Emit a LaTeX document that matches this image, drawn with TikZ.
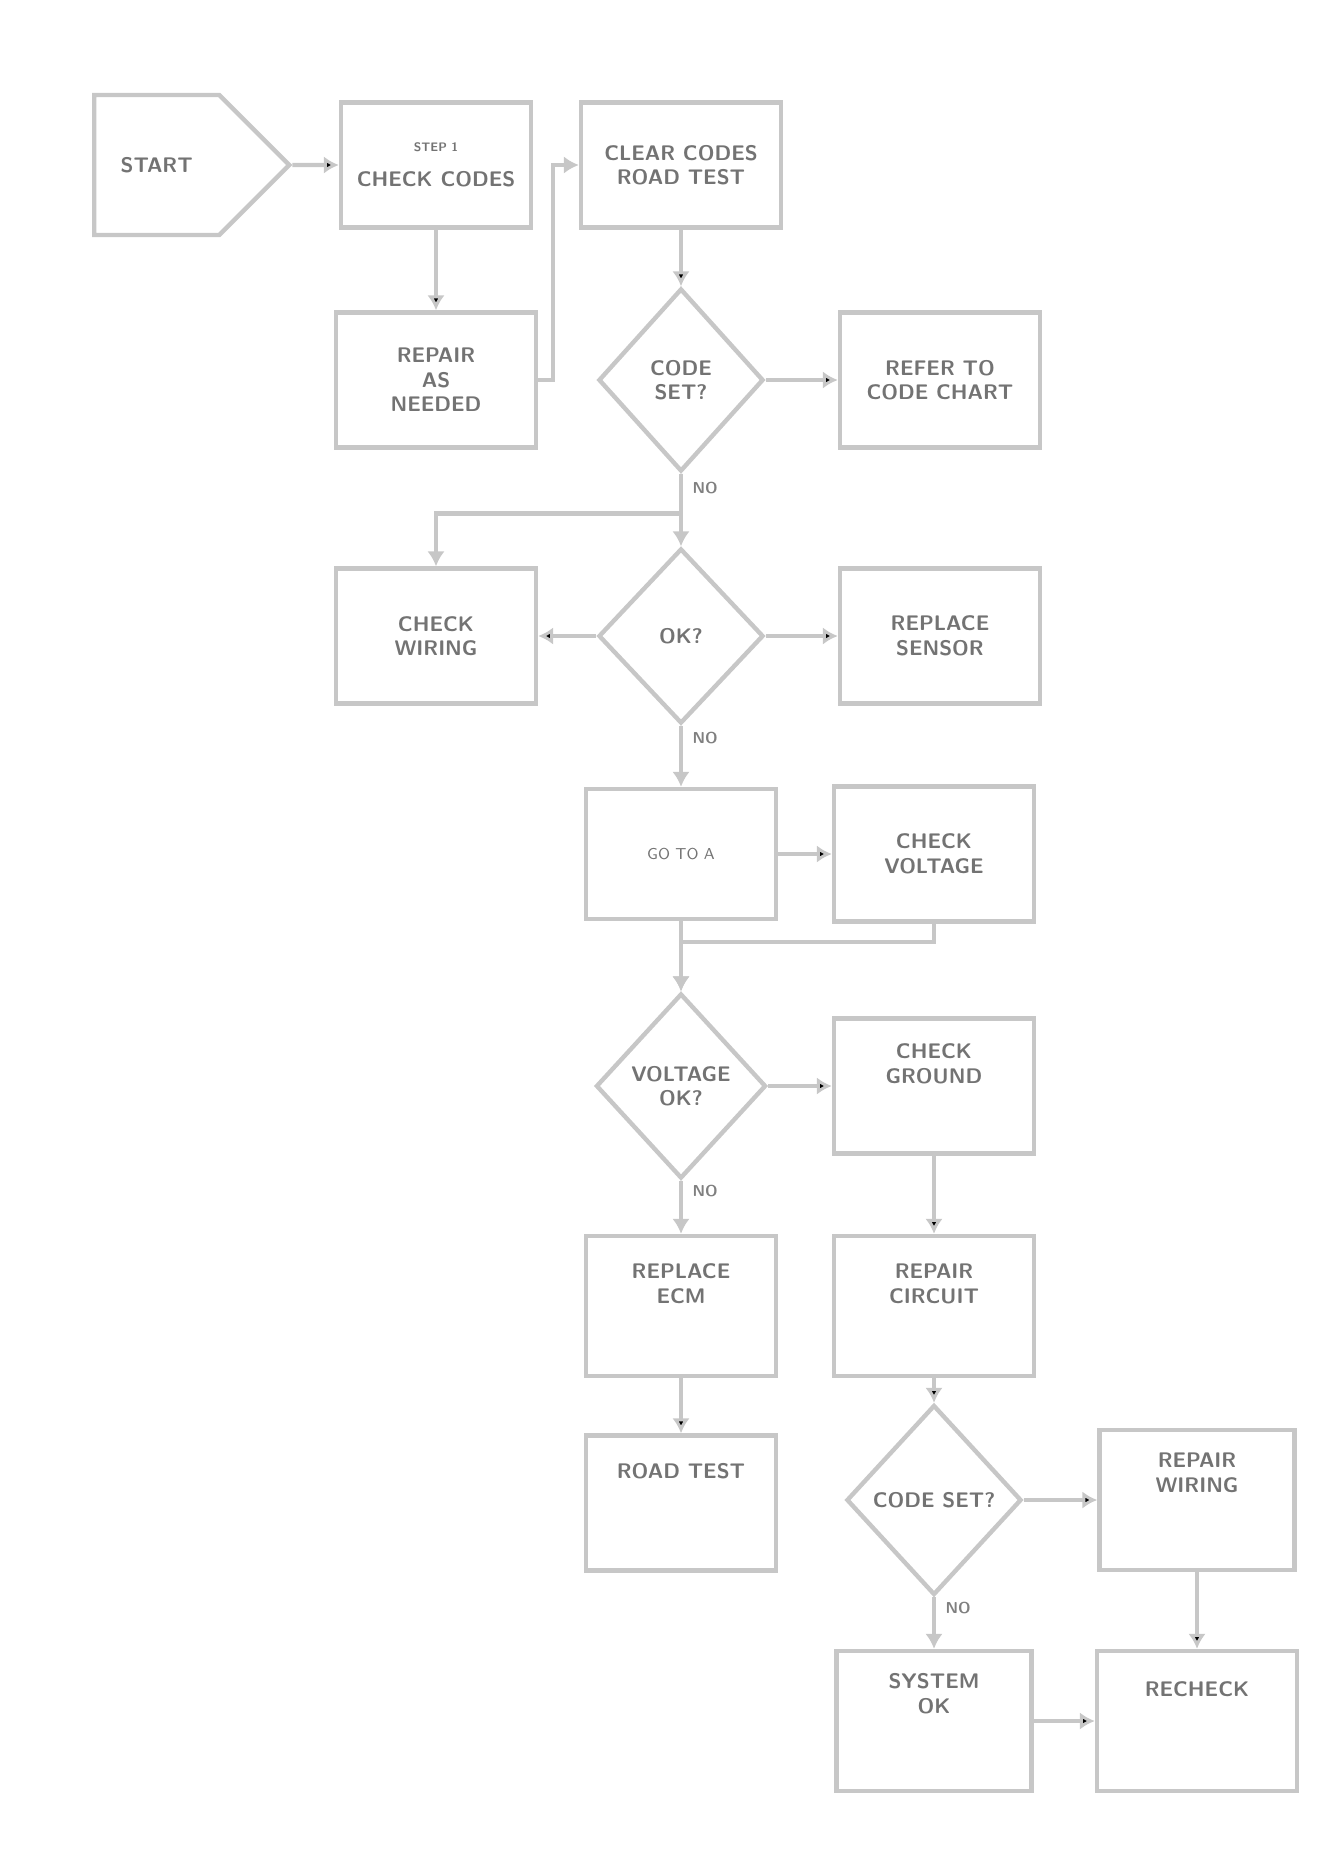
\documentclass[tikz,border=0pt]{standalone}
\usetikzlibrary{arrows.meta,shapes.geometric,shapes.symbols}

\begin{document}
\begin{tikzpicture}[x=0.02cm,y=-0.02cm]
   \useasboundingbox (0,0) rectangle (1344,1867);
   \tikzstyle{box}=[rectangle, draw=black!22, line width=2.5pt, minimum width=3.9cm, minimum height=2.7cm, align=center, text=black!55, font=\large\sffamily\bfseries]
   \tikzstyle{test}=[diamond, aspect=0.9, draw=black!22, line width=2.5pt, minimum width=3.4cm, minimum height=3.7cm, inner sep=0pt, align=center, text=black!55, font=\large\sffamily\bfseries]
   \tikzstyle{conn}=[draw=black!22, line width=2.5pt, arrows={-{Latex[length=3mm,width=3.5mm]}}]
   \tikzstyle{lab}=[text=black!50, font=\small\sffamily\bfseries]
   \node[box, signal, signal to=east, anchor=west, minimum width=3.9cm, minimum height=2.8cm] (start) at (92,165) {START};
   \node[box, minimum width=3.8cm, minimum height=2.5cm] (check) at (436,165) {{\scriptsize STEP 1}\\[2mm]CHECK CODES};
   \node[box, minimum width=4cm, minimum height=2.5cm] (clear) at (681,165) {CLEAR CODES\\ROAD TEST};
   \node[box, minimum width=4cm] (repair) at (436,380) {REPAIR\\AS\\NEEDED};
   \node[test, minimum width=3.3cm, minimum height=3.66cm] (codeset) at (681,380) {CODE\\SET?};
   \node[box, minimum width=4cm] (chart) at (940,380) {REFER TO\\CODE CHART};
   \node[box, minimum width=4cm] (wiring) at (436,636) {CHECK\\WIRING};
   \node[test, minimum width=3.3cm, minimum height=3.5cm] (ok) at (681,636) {OK?};
   \node[box, minimum width=4cm] (sensor) at (940,636) {REPLACE\\SENSOR};
   \node[box, minimum width=3.8cm, minimum height=2.6cm, font=\small\sffamily] (goto) at (681,854) {GO TO A};
   \node[box, minimum width=4cm] (volts) at (934,854) {CHECK\\VOLTAGE};
   \node[test, minimum width=3.4cm, minimum height=3.7cm] (voltok) at (681,1086) {VOLTAGE\\OK?};
   \node[box, minimum width=4cm] (ground) at (934,1086) {CHECK\\GROUND\\[4mm]};
   \node[box, minimum width=3.8cm, minimum height=2.8cm] (ecm) at (681,1306) {REPLACE\\ECM\\[4mm]};
   \node[box, minimum width=4cm, minimum height=2.8cm] (circuit) at (934,1306) {REPAIR\\CIRCUIT\\[4mm]};
   \node[box, minimum width=3.8cm] (road) at (681,1503) {ROAD TEST\\[8mm]};
   \node[test, minimum width=3.5cm, minimum height=3.8cm] (again) at (934,1500) {CODE SET?};
   \node[box, minimum width=3.9cm, minimum height=2.8cm] (fix) at (1197,1500) {REPAIR\\WIRING\\[6mm]};
   \node[box, minimum width=3.9cm, minimum height=2.8cm] (sysok) at (934,1721) {SYSTEM\\OK\\[6mm]};
   \node[box, minimum width=4cm, minimum height=2.8cm] (recheck) at (1197,1721) {RECHECK\\[8mm]};
   % straight connectors
   \foreach \a/\b in {start/check, check/repair, clear/codeset, codeset/chart, ok/wiring, ok/sensor, goto/volts, goto/voltok, voltok/ground, ground/circuit, ecm/road, circuit/again, again/fix, fix/recheck, sysok/recheck} {
       \path[conn] (\a) edge (\b);
   }
   % NO branches
   \foreach \a/\b in {codeset/ok, ok/goto, voltok/ecm, again/sysok} {
       \draw[conn] (\a.south) -- node[lab, pos=0.2, right=2pt] {NO} (\b.north);
   }
   % bent connectors
   \draw[conn] (repair.east) -- ++(15,0) |- (clear.west);
   \draw[conn] (codeset.south) -- ++(0,40) -| (wiring.north);
   \draw[conn] (volts.south) -- ++(0,18) -| (voltok.north);
\end{tikzpicture}
\end{document}
